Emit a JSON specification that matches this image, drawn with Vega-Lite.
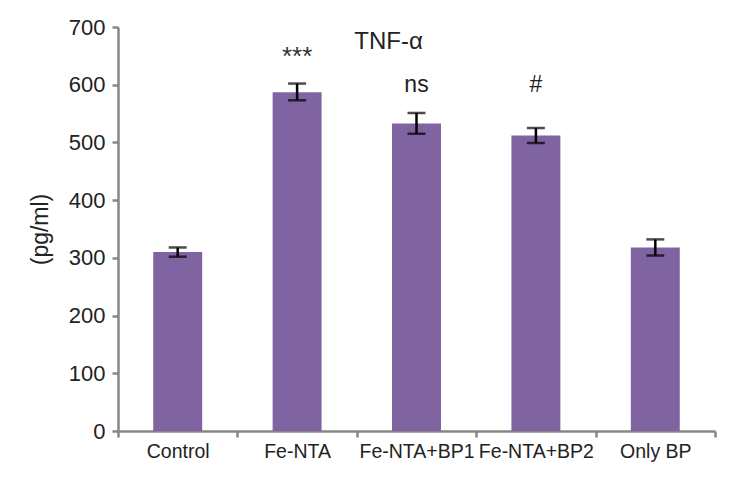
{
  "$schema": "https://vega.github.io/schema/vega-lite/v6.json",
  "autosize": "none",
  "width": 597,
  "height": 404,
  "padding": {"left": 118, "top": 27, "right": 27, "bottom": 54},
  "background": "white",
  "config": {
    "view": {"stroke": null},
    "font": "Liberation Sans",
    "axis": {"grid": false, "ticks": true, "domainColor": "#868686", "tickColor": "#868686", "domainWidth": 2.5, "tickWidth": 2.5, "labelColor": "#222222", "titleColor": "#222222", "labelFont": "Liberation Sans", "titleFont": "Liberation Sans", "titleFontWeight": "normal"},
    "axisX": {"labelFontSize": 19.5, "tickSize": 6, "labelPadding": 5, "labelAngle": 0},
    "axisY": {"labelFontSize": 22, "titleFontSize": 23, "tickSize": 6, "labelPadding": 7, "titlePadding": 16, "labelOverlap": false}
  },
  "data": {
    "values": [
      {"group": "Control", "value": 310, "lo": 302, "hi": 318, "sig": ""},
      {"group": "Fe-NTA", "value": 587, "lo": 573, "hi": 602, "sig": "***"},
      {"group": "Fe-NTA+BP1", "value": 533, "lo": 515, "hi": 551, "sig": "ns"},
      {"group": "Fe-NTA+BP2", "value": 512, "lo": 499, "hi": 525, "sig": "#"},
      {"group": "Only BP", "value": 318, "lo": 304, "hi": 332, "sig": ""}
    ]
  },
  "encoding": {
    "x": {
      "field": "group", "type": "nominal", "sort": null,
      "scale": {"paddingInner": 0, "paddingOuter": 0},
      "axis": {"title": null, "tickBand": "extent", "ticks": true}
    }
  },
  "layer": [
    {
      "mark": {"type": "bar", "color": "#8064A2", "width": {"band": 0.41}},
      "encoding": {
        "y": {"field": "value", "type": "quantitative", "title": "(pg/ml)",
          "scale": {"domain": [0, 700], "nice": false},
          "axis": {"values": [0,100,200,300,400,500,600,700], "ticks": true}
        }
      }
    },
    {
      "mark": {"type": "rule", "color": "black", "strokeWidth": 2.5},
      "encoding": {"y": {"field": "lo", "type": "quantitative", "title": "(pg/ml)"}, "y2": {"field": "hi"}}
    },
    {
      "mark": {"type": "tick", "color": "black", "thickness": 2.5, "size": 18},
      "encoding": {"y": {"field": "lo", "type": "quantitative", "title": "(pg/ml)"}}
    },
    {
      "mark": {"type": "tick", "color": "black", "thickness": 2.5, "size": 18},
      "encoding": {"y": {"field": "hi", "type": "quantitative", "title": "(pg/ml)"}}
    },
    {
      "transform": [{"filter": "datum.sig === '***'"}],
      "mark": {"type": "text", "fontSize": 26, "color": "#333333", "baseline": "alphabetic"},
      "encoding": {"y": {"datum": 634}, "text": {"field": "sig"}}
    },
    {
      "transform": [{"filter": "datum.sig === 'ns' || datum.sig === '#'"}],
      "mark": {"type": "text", "fontSize": 23, "color": "#222222", "baseline": "alphabetic"},
      "encoding": {"y": {"datum": 587}, "text": {"field": "sig"}}
    },
    {
      "transform": [{"filter": "datum.group === 'Fe-NTA+BP1'"}],
      "mark": {"type": "text", "fontSize": 24, "color": "#222222", "baseline": "alphabetic", "text": "TNF-α", "dx": -28},
      "encoding": {"y": {"datum": 662}}
    }
  ]
}
